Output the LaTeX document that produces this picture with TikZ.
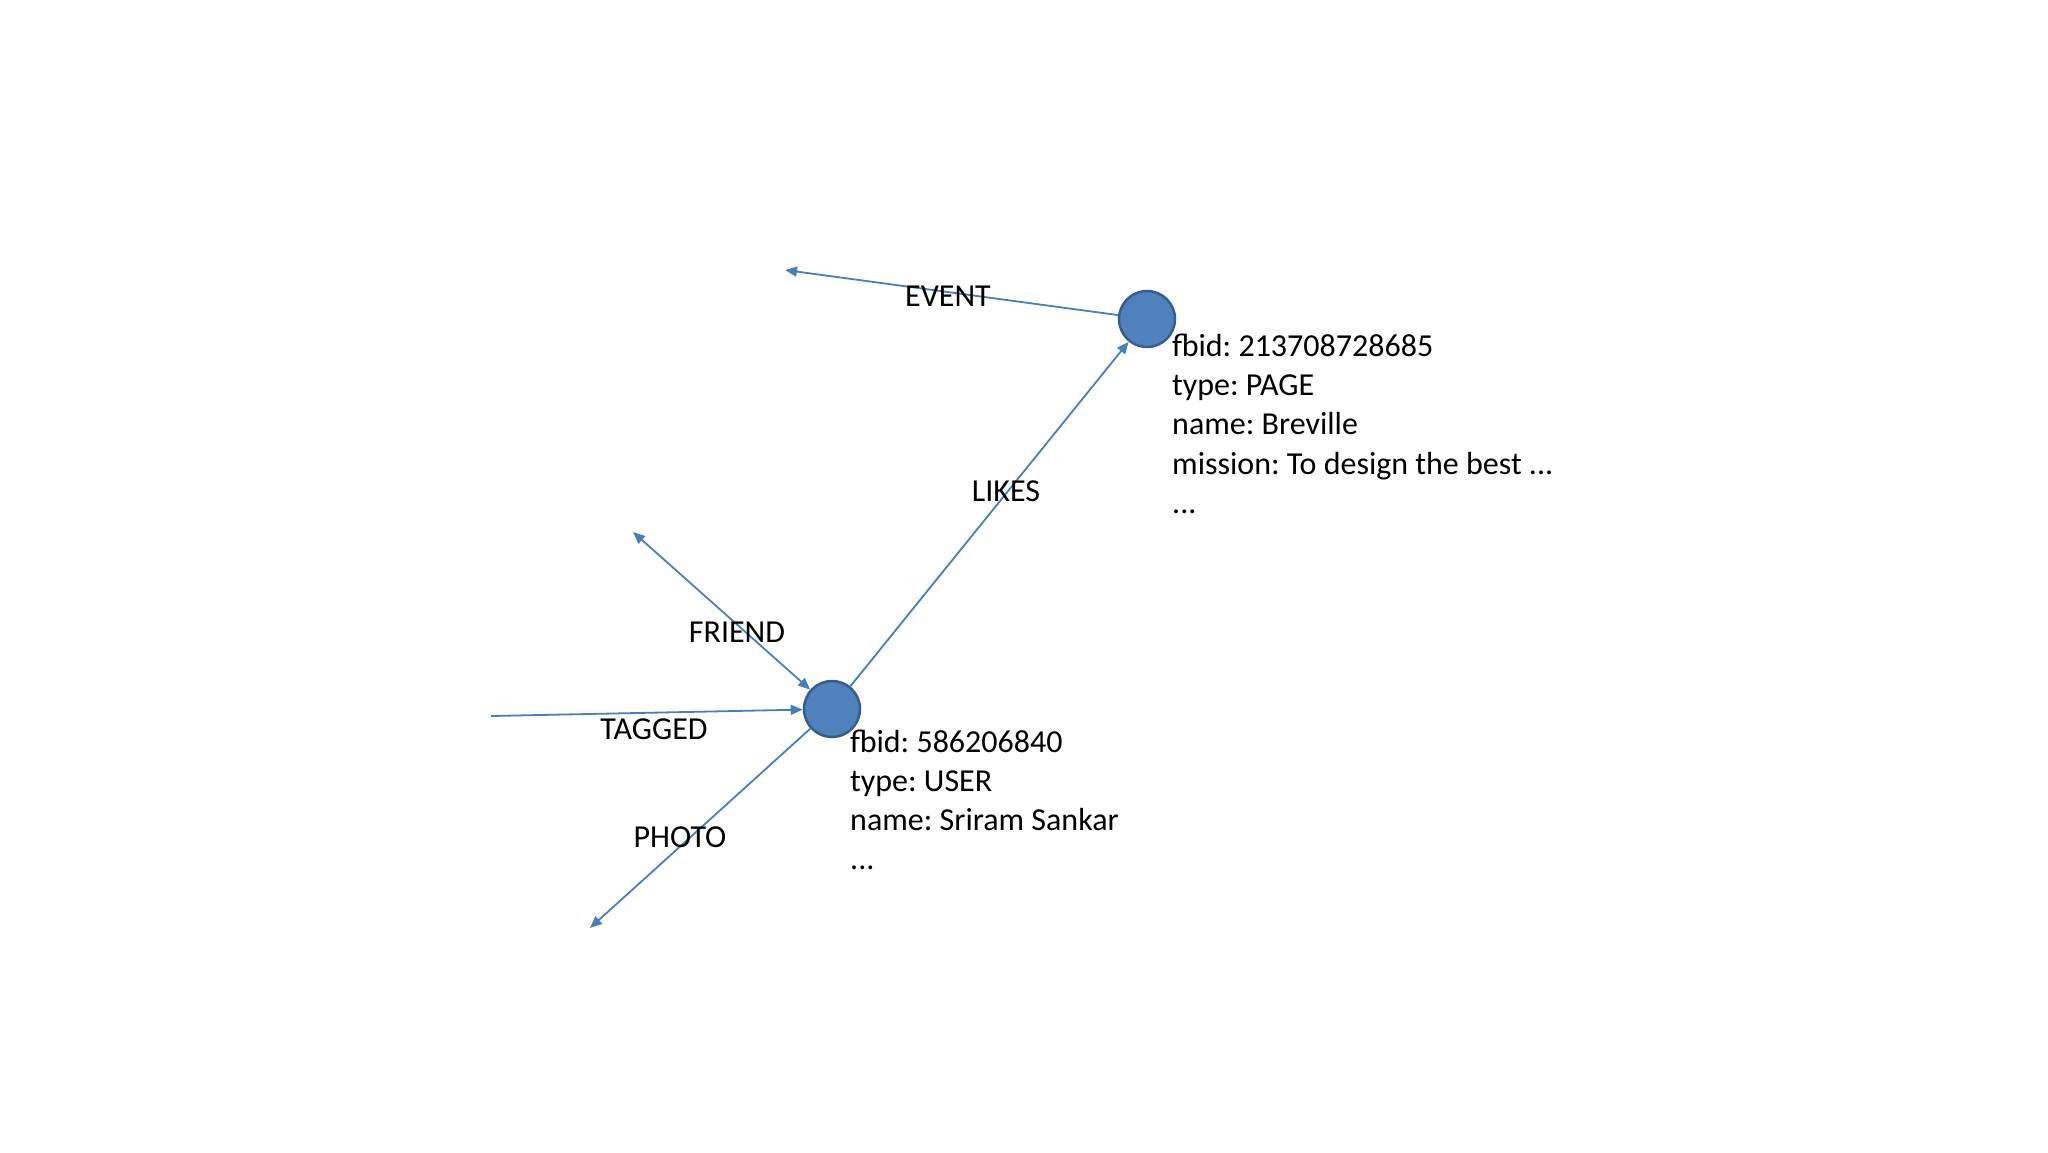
\documentclass[tikz,border=0pt]{standalone}
\usepackage{fontspec}
\setmainfont{Carlito}
\frenchspacing
\usetikzlibrary{arrows.meta}
\definecolor{nodefill}{HTML}{4F81BD}
\definecolor{nodeline}{HTML}{385D8A}
\definecolor{edgecol}{HTML}{4A7EBB}
\tikzset{
  vertex/.style={circle, fill=nodefill, draw=nodeline, line width=2.5pt, minimum size=56pt, inner sep=0pt},
  edge/.style={draw=edgecol, line width=1.8pt, -{Triangle[length=12pt,width=10pt]}},
  biedge/.style={draw=edgecol, line width=1.8pt, {Triangle[length=12pt,width=10pt]}-{Triangle[length=12pt,width=10pt]}},
  elabel/.style={font=\fontsize{32}{38}\selectfont, text=black, inner sep=0pt},
  info/.style={font=\fontsize{32}{39.3}\selectfont, text=black, inner sep=0pt, anchor=base west}
}
\begin{document}
\begin{tikzpicture}[x=1pt,y=-1pt]
\useasboundingbox (0,0) rectangle (2048,1152);
\fill[white] (0,0) rectangle (2048,1152);
\node[vertex] (page) at (1147,319) {};
\node[vertex] (user) at (832,709) {};
\coordinate (evEnd) at (785,270);
\coordinate (frEnd) at (633,532);
\coordinate (tgStart) at (491,716);
\coordinate (phEnd) at (590,928);
\draw[edge] (page) -- (evEnd);
\draw[edge] (user) -- (page);
\draw[biedge] (frEnd) -- (user);
\draw[edge] (tgStart) -- (user);
\draw[edge] (user) -- (phEnd);
\node[elabel] (lev) at (948,296) {EVENT};
\node[elabel] (llk) at (1006,491) {LIKES};
\node[elabel] (lfr) at (737,632) {FRIEND};
\node[elabel] (ltg) at (654,729) {TAGGED};
\node[elabel] (lph) at (680,837) {PHOTO};
\node[info] (p1) at (1172,356) {fbid: 213708728685};
\node[info] (p2) at (1172,395) {type: PAGE};
\node[info] (p3) at (1172,434) {name: Breville};
\node[info] (p4) at (1172,474) {mission: To design the best ...};
\node[info] (p5) at (1172,513) {...};
\node[info] (u1) at (850,752) {fbid: 586206840};
\node[info] (u2) at (850,791) {type: USER};
\node[info] (u3) at (850,830) {name: Sriram Sankar};
\node[info] (u4) at (850,869) {...};
\end{tikzpicture}
\end{document}
